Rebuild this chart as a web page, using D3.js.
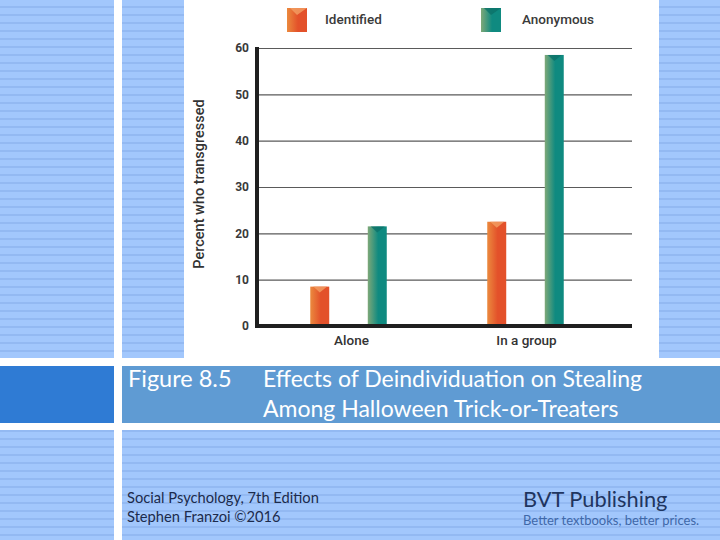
<!DOCTYPE html>
<html>
<head>
<meta charset="utf-8">
<script src="https://cdn.jsdelivr.net/npm/d3@7"></script>
<style>
  html, body { margin: 0; padding: 0; background: #fff; }
  svg { display: block; }
</style>
</head>
<body>
<svg id="chart" width="720" height="540"></svg>
<script>
// ---- data ----
const groups = ["Alone", "In a group"];
const seriesNames = ["Identified", "Anonymous"];
const identifiedValues = [8.5, 22.5];
const anonymousValues = [21.5, 58.5];
const yTicks = [0, 10, 20, 30, 40, 50, 60];
const yTitle = "Percent who transgressed";
const captionLabel = "Figure 8.5";
const captionLines = ["Effects of Deindividuation on Stealing", "Among Halloween Trick-or-Treaters"];
const footerLeft = ["Social Psychology, 7th Edition", "Stephen Franzoi \u00A92016"];
const footerRight = ["BVT Publishing", "Better textbooks, better prices."];

const data = groups.map((g, i) => ({
  group: g,
  values: [
    { series: seriesNames[0], value: identifiedValues[i] },
    { series: seriesNames[1], value: anonymousValues[i] }
  ]
}));

const svg = d3.select("#chart");
const defs = svg.append("defs");

// striped background pattern
const pat = defs.append("pattern").attr("id", "stripes")
  .attr("patternUnits", "userSpaceOnUse").attr("width", 8).attr("height", 8);
pat.append("rect").attr("width", 8).attr("height", 8).attr("fill", "#a2c7fc");
pat.append("rect").attr("y", 6).attr("width", 8).attr("height", 2).attr("fill", "#93b9f2");

// bar gradients
function grad(id, c1, c2) {
  const g = defs.append("linearGradient").attr("id", id)
    .attr("x1", "0%").attr("x2", "100%").attr("y1", "0%").attr("y2", "0%");
  g.append("stop").attr("offset", "0%").attr("stop-color", c1);
  g.append("stop").attr("offset", "55%").attr("stop-color", c2);
  g.append("stop").attr("offset", "100%").attr("stop-color", c2);
}
grad("gradIdentified", "#eb8a3e", "#e3512a");
grad("gradAnonymous", "#7fa878", "#0f8a80");
const fillFor = { Identified: "url(#gradIdentified)", Anonymous: "url(#gradAnonymous)" };
const notchFor = { Identified: "#f2a064", Anonymous: "#0b7269" };

// ---- background ----
svg.append("rect").attr("width", 720).attr("height", 540).attr("fill", "url(#stripes)");
svg.append("rect").attr("x", 114).attr("y", 0).attr("width", 8).attr("height", 540).attr("fill", "#fff");
svg.append("rect").attr("x", 0).attr("y", 358).attr("width", 720).attr("height", 8).attr("fill", "#fff");
svg.append("rect").attr("x", 0).attr("y", 423).attr("width", 720).attr("height", 7).attr("fill", "#fff");
svg.append("rect").attr("x", 0).attr("y", 366).attr("width", 114).attr("height", 57).attr("fill", "#2f7bd4");
svg.append("rect").attr("x", 122).attr("y", 366).attr("width", 598).attr("height", 57).attr("fill", "#5f9bd3");
svg.append("rect").attr("x", 184).attr("y", 0).attr("width", 475).attr("height", 358).attr("fill", "#fff");

// ---- chart ----
const chartFont = "Roboto, 'Liberation Sans', sans-serif";
const y = d3.scaleLinear().domain([0, 60]).range([326, 48]);
const x0 = d3.scaleBand().domain(groups).range([257, 617]).paddingInner(0.35).paddingOuter(0.192);
const x1 = d3.scaleBand().domain(seriesNames).range([0, x0.bandwidth()]).paddingInner(0.67).paddingOuter(0.335);

// gridlines
const grid = svg.append("g").attr("transform", "translate(257,0)")
  .call(d3.axisLeft(y).tickValues(yTicks.filter(t => t > 0)).tickSize(-375).tickFormat(""));
grid.select(".domain").remove();
grid.selectAll(".tick line").attr("stroke", "#5a5a5a").attr("stroke-width", 1.1);

// tick labels
const yAxis = svg.append("g").attr("transform", "translate(249,0)")
  .call(d3.axisLeft(y).tickValues(yTicks).tickSize(0).tickPadding(0));
yAxis.select(".domain").remove();
yAxis.selectAll("text")
  .attr("font-family", chartFont)
  .attr("font-size", 12).attr("font-weight", 700).attr("fill", "#3a3a3a")
  .attr("dy", "0.32em");

// bars
const gGroups = svg.append("g").selectAll("g").data(data).join("g")
  .attr("transform", d => `translate(${x0(d.group)},0)`);
const bars = gGroups.selectAll("g.bar").data(d => d.values).join("g").attr("class", "bar");
bars.append("rect")
  .attr("x", d => x1(d.series))
  .attr("y", d => y(d.value))
  .attr("width", x1.bandwidth())
  .attr("height", d => y(0) - y(d.value))
  .attr("fill", d => fillFor[d.series]);
bars.append("path")
  .attr("d", d => {
    const xl = x1(d.series), w = x1.bandwidth(), t = y(d.value);
    return `M${xl + 3},${t} L${xl + w - 2},${t} L${xl + w / 2},${t + 6} Z`;
  })
  .attr("fill", d => notchFor[d.series]).attr("opacity", 0.8);

// axis lines (thick)
svg.append("line").attr("x1", 257).attr("x2", 257).attr("y1", y(60) - 1).attr("y2", y(0) + 2)
  .attr("stroke", "#1f1f1f").attr("stroke-width", 4);
svg.append("line").attr("x1", 255).attr("x2", 632).attr("y1", y(0)).attr("y2", y(0))
  .attr("stroke", "#1f1f1f").attr("stroke-width", 4);

// x labels
svg.append("g").selectAll("text").data(groups).join("text")
  .attr("x", (d, i) => x0(d) + x0.bandwidth() / 2 + (i === 0 ? 3 : 1))
  .attr("y", 345)
  .attr("text-anchor", "middle")
  .attr("font-family", chartFont)
  .attr("font-size", 13.5).attr("font-weight", 500).attr("fill", "#333")
  .text(d => d);

// y title
svg.append("text")
  .attr("transform", "translate(204,184) rotate(-90)")
  .attr("text-anchor", "middle")
  .attr("font-family", chartFont)
  .attr("font-size", 14.5).attr("font-weight", 500).attr("fill", "#333")
  .text(yTitle);

// legend
const legendPos = [{ sx: 287, tx: 325 }, { sx: 481, tx: 522 }];
const leg = svg.append("g").selectAll("g").data(seriesNames).join("g");
leg.append("rect")
  .attr("x", (d, i) => legendPos[i].sx).attr("y", 8)
  .attr("width", 20).attr("height", 24)
  .attr("fill", d => fillFor[d]);
leg.append("path")
  .attr("d", (d, i) => {
    const sx = legendPos[i].sx;
    return `M${sx + 3},8 L${sx + 20},8 L${sx + 10},15 Z`;
  })
  .attr("fill", d => notchFor[d]).attr("opacity", 0.8);
leg.append("text")
  .attr("x", (d, i) => legendPos[i].tx).attr("y", 24)
  .attr("font-family", chartFont)
  .attr("font-size", 13.5).attr("font-weight", 500).attr("fill", "#3a3a3a")
  .text(d => d);

// caption
const capFont = "Lato, 'Open Sans', sans-serif";
svg.append("text").attr("x", 128).attr("y", 387)
  .attr("font-family", capFont).attr("font-size", 23.5).attr("fill", "#fff")
  .text(captionLabel);
svg.append("g").selectAll("text").data(captionLines).join("text")
  .attr("x", 263).attr("y", (d, i) => 387 + i * 30)
  .attr("font-family", capFont).attr("font-size", 23).attr("fill", "#fff")
  .text(d => d);

// footer
svg.append("g").selectAll("text").data(footerLeft).join("text")
  .attr("x", 127).attr("y", (d, i) => 503 + i * 19)
  .attr("font-family", capFont).attr("font-size", 14.7).attr("fill", "#1c2b4c")
  .text(d => d);
svg.append("text").attr("x", 523).attr("y", 507)
  .attr("font-family", capFont).attr("font-size", 21.8).attr("fill", "#1f3560")
  .text(footerRight[0]);
svg.append("text").attr("x", 523).attr("y", 525)
  .attr("font-family", capFont).attr("font-size", 13).attr("fill", "#3f68a8")
  .text(footerRight[1]);
</script>
</body>
</html>
